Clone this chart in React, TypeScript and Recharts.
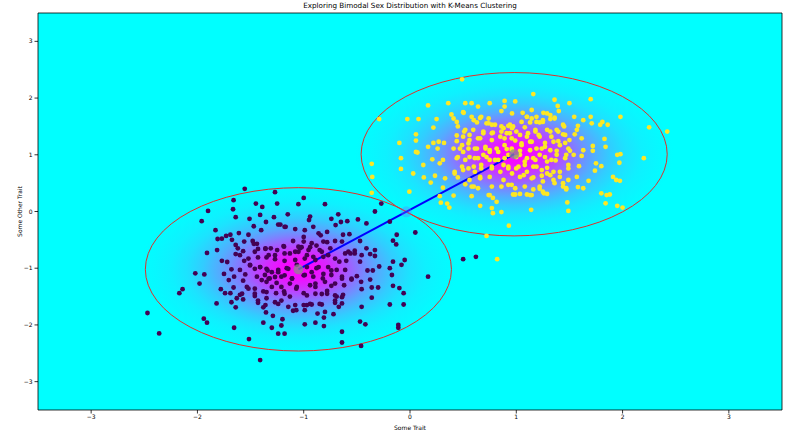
import React from 'react';
import {
  ScatterChart, Scatter, XAxis, YAxis, ReferenceArea, ReferenceLine,
} from 'recharts';

const TICKS = [-3, -2, -1, 0, 1, 2, 3];
const DOMAIN: [number, number] = [-3.5, 3.5];

// cluster 0 (purple)
const clusterA: [number, number][] = [
  [-1.555, 0.4], [-1.27, 0.34], [-1.66, 0.2], [-1.45, 0.14], [-1.39, 0.08], [-1.25, 0.14], [-1.05, 0.13], [-1.9, 0.01],
  [-1.665, 0.04], [-1.41, -0.06], [-1.15, -0.05], [-1.96, -0.17], [-1.64, -0.1], [-1.51, -0.13], [-1.355, -0.185], [-1.28, -0.1],
  [-1.22, -0.23], [-1.47, -0.26], [-1.4, -0.33], [-1.17, -0.27], [-1.08, -0.31], [-1.83, -0.33], [-1.61, -0.38], [-1.52, -0.41],
  [-1.69, -0.41], [-1.81, -0.485], [-1.77, -0.48], [-1.73, -0.43], [-1.675, -0.5], [-1.56, -0.53], [-1.48, -0.52], [-1.44, -0.57],
  [-1.64, -0.59], [-1.62, -0.65], [-1.1, -0.52], [-1.815, -0.68], [-1.57, -0.7], [-1.46, -0.71], [-1.36, -0.65], [-1.31, -0.65],
  [-1.25, -0.68], [-1.185, -0.62], [-1.13, -0.74], [-1.05, -0.62], [-1.91, -0.73], [-1.64, -0.75], [-1.43, -0.81], [-1.35, -0.81],
  [-1.27, -0.84], [-1.18, -0.87], [-1.08, -0.855], [-1.77, -0.87], [-1.72, -0.89], [-1.56, -0.87], [-1.505, -0.94], [-1.41, -0.98],
  [-1.68, -1.02], [-1.6, -1.03], [-1.34, -1.04], [-1.24, -1.03], [-1.16, -1.0], [-2.02, -1.09], [-1.935, -1.11], [-1.75, -1.1],
  [-1.655, -1.15], [-1.55, -1.11], [-1.44, -1.15], [-1.365, -1.12], [-1.32, -1.18], [-1.21, -1.15], [-1.11, -1.18], [-1.705, -1.21],
  [-1.57, -1.22], [-1.35, -1.24], [-1.255, -1.26], [-1.98, -1.27], [-1.66, -1.34], [-1.535, -1.33], [-2.14, -1.37], [-2.17, -1.44],
  [-1.78, -1.37], [-1.74, -1.44], [-1.69, -1.44], [-1.6, -1.47], [-1.46, -1.49], [-1.38, -1.41], [-1.26, -1.44], [-1.185, -1.41],
  [-1.13, -1.5], [-1.63, -1.53], [-1.57, -1.55], [-1.43, -1.61], [-1.35, -1.53], [-1.24, -1.63], [-1.82, -1.62], [-1.68, -1.6],
  [-1.64, -1.69], [-1.38, -1.69], [-1.1, -1.75], [-1.355, -1.78], [-2.47, -1.79], [-1.29, -1.84], [-1.2, -1.9], [-1.94, -1.89],
  [-1.91, -1.96], [-1.38, -1.96], [-1.21, -2.01], [-1.3, -2.05], [-1.655, -2.05], [-2.36, -2.15], [-1.24, -2.155], [-1.18, -2.155],
  [-1.515, -2.25], [-1.41, -2.62],
  [-1.0, 0.24], [-0.8, 0.13], [-0.27, 0.14], [-0.33, 0.0], [-0.94, -0.09], [-0.675, -0.05], [-0.95, -0.15], [-0.74, -0.13],
  [-0.65, -0.185], [-0.59, -0.17], [-0.49, -0.14], [-0.41, -0.21], [-0.19, -0.18], [-0.7, -0.24], [-0.99, -0.33], [-0.86, -0.385],
  [-0.78, -0.36], [-0.63, -0.41], [-0.57, -0.4], [-0.125, -0.41], [0.05, -0.37], [-1.0, -0.53], [-0.925, -0.56], [-0.815, -0.53],
  [-0.705, -0.52], [-0.64, -0.53], [-0.47, -0.52], [-0.16, -0.515], [-0.13, -0.58], [-1.035, -0.65], [-0.955, -0.68], [-0.85, -0.68],
  [-0.75, -0.65], [-0.52, -0.69], [-0.41, -0.65], [-0.33, -0.68], [-1.08, -0.71], [-0.815, -0.8], [-0.58, -0.71], [-0.455, -0.77],
  [-0.375, -0.75], [-0.33, -0.785], [-0.99, -0.83], [-0.89, -0.855], [-0.665, -0.885], [-0.6, -0.87], [-0.47, -0.885], [-0.05, -0.855],
  [-0.16, -0.885], [-0.08, -0.94], [-1.065, -0.94], [-0.97, -0.98], [-0.88, -1.0], [-0.77, -0.98], [-0.69, -1.03], [-0.61, -1.03],
  [-0.4, -1.04], [-0.29, -0.97], [-0.19, -1.0], [-0.35, -1.04], [-0.99, -1.12], [-0.91, -1.15], [-0.82, -1.18], [-0.74, -1.12],
  [-0.64, -1.15], [-0.55, -1.2], [-0.5, -1.14], [-0.375, -1.2], [-0.17, -1.12], [0.17, -1.15], [-1.065, -1.33], [-0.94, -1.3],
  [-0.89, -1.33], [-0.74, -1.31], [-0.62, -1.3], [-0.46, -1.24], [-0.455, -1.37], [-0.36, -1.34], [-0.3, -1.34], [-0.16, -1.31],
  [-0.1, -1.35], [-1.0, -1.44], [-0.83, -1.455], [-0.78, -1.4], [-0.69, -1.5], [-0.63, -1.47], [-0.06, -1.44], [-0.36, -1.52],
  [-1.08, -1.65], [-0.97, -1.65], [-0.925, -1.64], [-0.83, -1.64], [-0.705, -1.61], [-0.64, -1.62], [-0.67, -1.68], [-0.455, -1.68],
  [-0.19, -1.64], [-0.06, -1.64], [-0.87, -1.8], [-0.72, -1.81], [-0.81, -1.87], [-0.89, -1.96], [-0.99, -1.99], [-0.81, -2.02],
  [-0.47, -1.94], [-0.42, -1.99], [-0.11, -2.0], [-0.11, -2.05], [-0.64, -2.12], [-0.64, -2.31], [-0.46, -2.37], [0.5, -0.84],
  [0.62, -0.8],
  // dense core
  [-1.18, -0.27], [-1.24, -0.23], [-0.91, -0.27], [-1.0, -0.45], [-0.84, -0.42], [-0.78, -0.54], [-0.88, -0.6], [-0.94, -0.63],
  [-1.02, -0.63], [-1.05, -0.71], [-1.19, -0.61], [-1.18, -0.74], [-1.27, -0.77], [-1.33, -0.77], [-1.36, -0.66], [-1.43, -0.66],
  [-1.47, -0.57], [-1.52, -0.83], [-1.6, -0.77], [-0.97, -0.77], [-0.91, -0.8], [-0.83, -0.71], [-0.77, -0.77], [-0.705, -0.83],
  [-0.61, -0.74], [-0.56, -0.74], [-0.52, -0.74], [-1.35, -1.01], [-1.3, -1.07], [-1.27, -1.155], [-1.24, -1.07], [-1.33, -1.185],
  [-1.41, -0.98], [-1.46, -1.01], [-1.505, -0.95], [-1.145, -1.01], [-1.18, -1.125], [-1.13, -1.27], [-1.11, -1.185], [-1.0, -1.125],
  [-0.925, -1.07], [-0.86, -0.98], [-0.815, -1.1], [-0.74, -1.04], [-0.89, -1.27], [-0.8, -1.24], [-0.705, -1.27], [-0.64, -1.185],
  [-0.55, -1.185], [-1.395, -1.21], [-1.46, -1.36], [-1.35, -1.42], [-1.3, -1.33], [-1.21, -1.33], [-1.18, -1.45], [-1.07, -1.36],
  [-0.97, -1.48], [-0.94, -1.63], [-1.0, -1.65], [-0.89, -1.45], [-0.78, -1.45], [-0.705, -1.48], [-0.64, -1.51], [-1.21, -1.57],
  [-1.27, -1.6], [-1.36, -1.65], [-1.43, -1.57], [-1.46, -1.45], [-1.52, -1.36], [-1.58, -1.45], [-1.145, -1.68], [-1.07, -1.74],
  [-0.99, -1.74], [-0.85, -1.63], [-0.8, -1.77], [-0.705, -1.57],
];

// cluster 1 (yellow)
const clusterB: [number, number][] = [
  [0.49, 2.33], [0.36, 1.91], [0.52, 1.91], [0.58, 1.91], [0.17, 1.87], [0.64, 1.85], [0.75, 1.91], [0.89, 1.95],
  [0.89, 1.85], [0.86, 1.77], [0.96, 1.73], [0.505, 1.74], [0.39, 1.71], [0.41, 1.64], [0.58, 1.67], [0.67, 1.67],
  [0.74, 1.64], [-0.025, 1.63], [0.08, 1.63], [-0.29, 1.63], [0.25, 1.63], [0.44, 1.58], [0.63, 1.57], [0.72, 1.555],
  [0.77, 1.53], [0.86, 1.5], [0.94, 1.53], [0.22, 1.48], [0.45, 1.5], [0.595, 1.44], [0.69, 1.41], [0.78, 1.39],
  [0.86, 1.41], [0.94, 1.38], [0.51, 1.41], [0.056, 1.36], [0.44, 1.34], [0.56, 1.26], [0.66, 1.29], [0.77, 1.26],
  [0.89, 1.29], [0.99, 1.25], [0.056, 1.25], [-0.1, 1.21], [0.17, 1.14], [0.27, 1.23], [0.32, 1.21], [0.22, 1.21],
  [0.26, 1.11], [0.44, 1.24], [0.49, 1.17], [0.55, 1.2], [0.41, 1.11], [0.5, 1.05], [0.61, 1.11], [0.71, 1.11],
  [0.75, 1.08], [0.83, 1.05], [0.91, 1.1], [0.056, 1.05], [0.07, 1.04], [-0.085, 0.94], [0.21, 0.92], [0.31, 0.91],
  [0.45, 0.96], [0.56, 0.96], [0.64, 0.94], [0.72, 0.96], [0.8, 0.91], [0.89, 0.94], [-0.36, 0.84], [0.125, 0.82],
  [0.28, 0.85], [0.49, 0.79], [0.55, 0.76], [0.67, 0.82], [0.77, 0.79], [0.925, 0.76], [1.02, 0.79], [-0.085, 0.75],
  [0.03, 0.67], [0.235, 0.63], [0.33, 0.585], [0.42, 0.67], [0.45, 0.6], [0.61, 0.7], [0.66, 0.61], [0.13, 0.6],
  [-0.355, 0.61], [0.195, 0.51], [0.52, 0.48], [0.58, 0.44], [0.64, 0.41], [0.86, 0.44], [0.925, 0.47], [0.31, 0.42],
  [-0.006, 0.35], [-0.36, 0.33], [0.28, 0.27], [0.41, 0.28], [0.58, 0.27], [0.75, 0.29], [0.78, 0.24], [0.815, 0.17],
  [0.29, 0.155], [0.35, 0.14], [0.37, 0.07], [0.66, 0.1], [0.77, 0.06], [0.78, -0.03], [0.86, -0.01], [0.93, -0.25],
  [0.72, -0.43], [0.82, -0.84],
  [1.16, 2.07], [0.99, 1.94], [1.36, 1.97], [1.7, 1.98], [1.5, 1.91], [1.39, 1.86], [1.4, 1.77], [1.145, 1.79],
  [1.06, 1.74], [1.255, 1.74], [1.29, 1.73], [1.1, 1.67], [1.19, 1.67], [1.36, 1.655], [1.545, 1.67], [1.7, 1.67],
  [1.98, 1.67], [1.63, 1.61], [1.13, 1.57], [1.22, 1.57], [1.25, 1.58], [1.32, 1.63], [1.71, 1.555], [1.81, 1.58],
  [1.79, 1.53], [1.86, 1.53], [1.58, 1.51], [1.45, 1.5], [0.96, 1.47], [1.08, 1.485], [1.0, 1.41], [1.18, 1.41],
  [1.29, 1.44], [1.395, 1.41], [1.57, 1.44], [2.25, 1.485], [2.42, 1.41], [1.1, 1.32], [1.21, 1.35], [1.33, 1.32],
  [1.44, 1.36], [1.55, 1.36], [1.615, 1.29], [1.83, 1.28], [1.05, 1.2], [1.145, 1.23], [1.27, 1.21], [1.395, 1.24],
  [1.5, 1.26], [1.46, 1.21], [1.84, 1.14], [1.72, 1.155], [0.96, 1.08], [1.035, 1.07], [1.13, 1.08], [1.24, 1.11],
  [1.32, 1.08], [1.38, 1.07], [1.505, 1.07], [1.63, 1.08], [1.72, 1.07], [1.95, 1.0], [1.98, 1.01], [2.2, 0.94],
  [1.0, 0.96], [1.1, 0.94], [1.18, 0.91], [1.27, 0.96], [1.33, 0.91], [1.47, 1.0], [1.54, 1.0], [1.615, 0.98],
  [1.08, 0.82], [1.19, 0.79], [1.29, 0.77], [1.37, 0.9], [1.49, 0.82], [1.59, 0.8], [1.75, 0.85], [1.8, 0.8],
  [1.97, 0.86], [0.96, 0.67], [1.07, 0.64], [1.16, 0.6], [1.24, 0.63], [1.29, 0.67], [1.35, 0.7], [1.41, 0.61],
  [1.49, 0.555], [1.57, 0.61], [1.68, 0.54], [1.74, 0.72], [1.91, 0.61], [1.94, 0.555], [1.975, 0.54], [0.99, 0.41],
  [1.16, 0.39], [1.22, 0.4], [1.36, 0.5], [1.44, 0.44], [1.47, 0.39], [1.58, 0.43], [1.63, 0.41], [0.99, 0.3],
  [1.035, 0.31], [1.1, 0.3], [1.145, 0.29], [1.26, 0.32], [1.29, 0.31], [1.8, 0.32], [1.85, 0.29], [1.88, 0.3],
  [1.48, 0.16], [1.84, 0.145], [1.95, 0.1], [2.0, 0.07], [1.49, 0.01], [1.14, 0.03],
  // dense core
  [0.5, 1.75], [0.66, 1.65], [0.6, 1.61], [0.74, 1.555], [0.8, 1.53], [0.88, 1.47], [0.925, 1.51], [0.97, 1.5],
  [1.05, 1.58], [1.1, 1.67], [1.145, 1.64], [1.19, 1.58], [1.25, 1.61], [1.32, 1.7], [1.36, 1.64], [1.44, 1.53],
  [0.52, 1.44], [0.5, 1.32], [0.56, 1.35], [0.64, 1.29], [0.69, 1.38], [0.77, 1.38], [0.85, 1.32], [0.91, 1.38],
  [0.957, 1.29], [1.035, 1.35], [1.11, 1.38], [1.18, 1.44], [1.22, 1.32], [1.32, 1.41], [1.38, 1.44], [1.46, 1.35],
  [0.47, 1.11], [0.55, 1.11], [0.63, 1.11], [0.71, 1.14], [0.75, 1.05], [0.815, 1.11], [0.89, 1.17], [0.957, 1.11],
  [1.05, 1.17], [1.13, 1.23], [1.19, 1.11], [1.27, 1.14], [1.35, 1.23], [1.41, 1.17], [1.49, 1.11],
  [0.44, 0.94], [0.52, 0.91], [0.61, 0.94], [0.69, 1.0], [0.75, 0.91], [0.83, 0.91], [0.88, 0.82], [0.925, 1.0],
  [1.035, 1.0], [1.08, 0.88], [1.16, 0.94], [1.22, 1.0], [1.29, 0.88], [1.38, 1.0], [1.46, 0.94],
  [0.42, 0.7], [0.5, 0.73], [0.6, 0.79], [0.67, 0.76], [0.77, 0.76], [0.85, 0.7], [0.925, 0.79], [1.0, 0.76],
  [1.1, 0.7], [1.16, 0.79], [1.24, 0.73], [1.32, 0.64], [1.41, 0.7], [1.49, 0.76],
  [0.56, 0.555], [0.66, 0.585], [0.75, 0.61], [0.88, 0.555], [1.035, 0.61], [1.145, 0.585], [1.25, 0.53], [1.35, 0.555],
  [1.44, 0.5], [0.6, 0.44], [0.77, 0.44], [0.957, 0.47], [1.08, 0.44], [1.22, 0.44], [1.47, 0.41],
  [0.74, 0.29], [0.97, 0.3], [1.13, 0.29], [1.25, 0.35],
];

const centroids: [number, number][] = [[-1.05, -1.02], [0.98, 1.01]];
const midpoint: [number, number][] = [[-0.035, -0.005]];
const ellipseRadius = 1.44; // 3 std-dev ring, data units
const densityRadius = 1.5;  // extent of density shading

// 'cool' colormap sampled along a gaussian falloff
const densityStops: [number, string][] = [
  [0, '#ff00ff'], [0.1, '#f40bff'], [0.2, '#d52aff'], [0.3, '#aa55ff'], [0.4, '#7c83ff'],
  [0.5, '#53acff'], [0.6, '#32ccff'], [0.7, '#1ce3ff'], [0.8, '#0ef1ff'], [0.9, '#07f8ff'], [1, '#00ffff'],
];

const toPts = (arr: [number, number][]) => arr.map(([x, y]) => ({ x, y }));
const minus = (v: number) => String(v).replace('-', '\u2212');
const FONT = 'DejaVu Sans, sans-serif';

const blob = (id: string) => (p: any) => (
  <g>
    <defs>
      <radialGradient id={id} cx="50%" cy="50%" r="50%">
        {densityStops.map(([o, c]) => <stop key={o} offset={o} stopColor={c} />)}
      </radialGradient>
    </defs>
    <ellipse
      cx={p.x + p.width / 2} cy={p.y + p.height / 2}
      rx={p.width / 2} ry={p.height / 2} fill={`url(#${id})`}
    />
  </g>
);

const ring = (p: any) => (
  <ellipse
    cx={p.x + p.width / 2} cy={p.y + p.height / 2}
    rx={p.width / 2} ry={p.height / 2} fill="none" stroke="#e0302a" strokeWidth={1}
  />
);

const dot = (fill: string, r: number, opacity = 1) => (p: any) => (
  <circle cx={p.cx} cy={p.cy} r={r} fill={fill} fillOpacity={opacity} />
);

export default function App() {
  return (
    <div style={{ position: 'relative', width: 800, height: 432, background: '#fff' }}>
      <style>{'body{margin:0}'}</style>
      <div
        style={{
          position: 'absolute', left: 38, width: 744, top: 1, textAlign: 'center',
          fontFamily: FONT, fontSize: 7.2, color: '#000', lineHeight: '10px',
        }}
      >
        Exploring Bimodal Sex Distribution with K-Means Clustering
      </div>
      <ScatterChart width={800} height={432} margin={{ top: 13, right: 18, bottom: 0, left: 0 }}>
        <XAxis
          type="number" dataKey="x" domain={DOMAIN} ticks={TICKS} allowDataOverflow
          height={22} axisLine={false} tickSize={3.5} tickMargin={1}
          tickLine={{ stroke: '#000', strokeWidth: 0.8 }}
          tick={{ fontSize: 6, fill: '#000', fontFamily: FONT }}
          tickFormatter={minus}
          label={{ value: 'Some Trait', position: 'insideBottom', offset: 2, fontSize: 6, fill: '#000', fontFamily: FONT }}
        />
        <YAxis
          type="number" dataKey="y" domain={DOMAIN} ticks={TICKS} allowDataOverflow
          width={38} axisLine={false} tickSize={3.5} tickMargin={2}
          tickLine={{ stroke: '#000', strokeWidth: 0.8 }}
          tick={{ fontSize: 6, fill: '#000', fontFamily: FONT }}
          tickFormatter={minus}
          label={{ value: 'Some Other Trait', angle: -90, position: 'center', dx: 1, fontSize: 6, fill: '#000', fontFamily: FONT }}
        />
        <ReferenceArea
          x1={DOMAIN[0]} x2={DOMAIN[1]} y1={DOMAIN[0]} y2={DOMAIN[1]}
          fill="#00ffff" fillOpacity={1} stroke="#000" strokeWidth={0.8}
        />
        {centroids.map(([cx, cy], i) => (
          <ReferenceArea
            key={`d${i}`}
            x1={cx - densityRadius} x2={cx + densityRadius} y1={cy - densityRadius} y2={cy + densityRadius}
            shape={blob(`dens${i}`)}
          />
        ))}
        <Scatter data={toPts(clusterA)} shape={dot('#440154', 2.4)} isAnimationActive={false} />
        <Scatter data={toPts(clusterB)} shape={dot('#fde725', 2.4)} isAnimationActive={false} />
        {centroids.map(([cx, cy], i) => (
          <ReferenceArea
            key={`e${i}`}
            x1={cx - ellipseRadius} x2={cx + ellipseRadius} y1={cy - ellipseRadius} y2={cy + ellipseRadius}
            shape={ring}
          />
        ))}
        <Scatter data={toPts(centroids)} shape={dot('#8c8c8c', 5, 0.75)} isAnimationActive={false} />
        <Scatter data={toPts(midpoint)} shape={dot('#7070ff', 5.5, 0.35)} isAnimationActive={false} />
        <ReferenceLine
          segment={centroids.map(([x, y]) => ({ x, y }))}
          stroke="#0000ff" strokeWidth={2}
        />
      </ScatterChart>
    </div>
  );
}
